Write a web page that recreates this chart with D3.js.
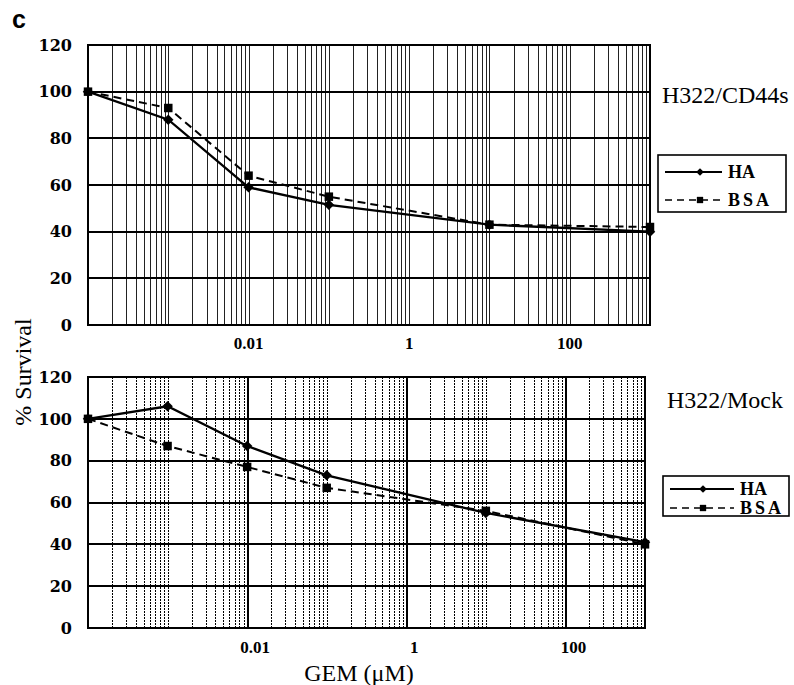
<!DOCTYPE html>
<html>
<head>
<meta charset="utf-8">
<script src="https://cdn.jsdelivr.net/npm/d3@7"></script>
<style>
  body { margin: 0; background: #fff; }
  svg { display: block; }
  .y-tick { font-family: 'DejaVu Serif', serif; font-weight: bold; font-size: 16px; }
  .x-tick { font-family: 'Liberation Serif', serif; font-weight: bold; font-size: 17px; }
  .legend-label { font-family: 'Liberation Serif', serif; font-weight: bold; font-size: 18px; }
  .panel-title, .axis-title { font-family: 'Liberation Serif', serif; font-size: 24px; }
  .fig-letter { font-family: 'Liberation Sans', sans-serif; font-weight: 900; font-size: 25px; }
  .grid { shape-rendering: crispEdges; }
</style>
</head>
<body>
<svg id="chart" width="794" height="685"></svg>
<script>
// GEM concentration (uM) for each measured point
const concentrations = [0.0001, 0.001, 0.01, 0.1, 10, 1000];
// % survival, H322/CD44s cells
const cd44sHA = [100, 88, 59, 51.5, 43, 40];
const cd44sBSA = [100, 93, 64, 55, 43, 42];
// % survival, H322/Mock cells
const mockHA = [100, 106, 87, 73, 55, 41];
const mockBSA = [100, 87, 77, 67, 56, 40];

const seriesNames = ['HA', 'BSA'];
const panelTitles = ['H322/CD44s', 'H322/Mock'];
const xTickLabels = [0.01, 1, 100];
const yTickValues = [0, 20, 40, 60, 80, 100, 120];
const xDomain = [0.0001, 1000];
const yDomain = [0, 120];

class SurvivalPanel {
  constructor(_config, _svg, _seriesData) {
    this.config = _config;
    this.svg = _svg;
    this.data = _seriesData;
    this.initVis();
  }

  initVis() {
    let vis = this;
    const c = vis.config;
    vis.xScale = d3.scaleLog().domain(xDomain).range([c.left, c.right]);
    vis.yScale = d3.scaleLinear().domain(yDomain).range([c.bottom, c.top]);
    vis.g = vis.svg.append('g');

    // vertical log grid (1..9 per decade)
    const isMajor = (d) => xTickLabels.some((t) => Math.abs(Math.log10(d) - Math.log10(t)) < 1e-6);
    vis.g.selectAll('.v-grid')
      .data(vis.xScale.ticks())
      .join('line')
      .attr('class', 'v-grid grid')
      .attr('x1', (d) => Math.round(vis.xScale(d)) + 0.5)
      .attr('x2', (d) => Math.round(vis.xScale(d)) + 0.5)
      .attr('y1', c.top)
      .attr('y2', c.bottom)
      .attr('stroke', (d) => (c.solidMinor ? '#222' : '#000'))
      .attr('stroke-width', (d) => (isMajor(d) && !c.solidMinor ? 2 : 1))
      .attr('stroke-dasharray', (d) => (c.solidMinor || isMajor(d) ? null : '2,1'));

    // horizontal grid
    vis.g.selectAll('.h-grid')
      .data(yTickValues)
      .join('line')
      .attr('class', 'h-grid grid')
      .attr('x1', c.left)
      .attr('x2', c.right)
      .attr('y1', (d) => vis.yScale(d))
      .attr('y2', (d) => vis.yScale(d))
      .attr('stroke', '#000')
      .attr('stroke-width', 2);

    vis.g.append('rect')
      .attr('class', 'grid')
      .attr('x', c.left)
      .attr('y', c.top)
      .attr('width', c.right - c.left)
      .attr('height', c.bottom - c.top)
      .attr('fill', 'none')
      .attr('stroke', '#000')
      .attr('stroke-width', 2);

    vis.g.selectAll('.y-tick')
      .data(yTickValues)
      .join('text')
      .attr('class', 'y-tick')
      .attr('x', c.left - 16)
      .attr('y', (d) => vis.yScale(d))
      .attr('dy', '0.36em')
      .attr('text-anchor', 'end')
      .text((d) => d);

    vis.g.selectAll('.x-tick')
      .data(xTickLabels)
      .join('text')
      .attr('class', 'x-tick')
      .attr('x', (d) => vis.xScale(d) + c.labelDx)
      .attr('y', c.bottom + c.labelDy)
      .attr('text-anchor', 'middle')
      .text((d) => d);

    vis.g.append('text')
      .attr('class', 'panel-title')
      .attr('x', c.titleX)
      .attr('y', c.titleY)
      .text(c.title);
  }

  renderVis() {
    let vis = this;
    const c = vis.config;
    const line = d3.line()
      .x((d) => vis.xScale(d.x))
      .y((d) => vis.yScale(d.y));

    const series = vis.g.selectAll('.series')
      .data(vis.data)
      .join('g')
      .attr('class', 'series');

    series.append('path')
      .attr('d', (d) => line(d.values))
      .attr('fill', 'none')
      .attr('stroke', '#000')
      .attr('stroke-width', (d) => (d.name === 'HA' ? 2.3 : 2))
      .attr('stroke-dasharray', (d) => (d.name === 'HA' ? null : '8,5'));

    series.selectAll('.marker')
      .data((d) => d.values.map((v) => ({ ...v, name: d.name })))
      .join('path')
      .attr('class', 'marker')
      .attr('d', (d) => (d.name === 'HA' ? d3.symbol(d3.symbolSquare, 55)() : d3.symbol(d3.symbolSquare, 72)()))
      .attr('transform', (d) => `translate(${vis.xScale(d.x)},${vis.yScale(d.y)})${d.name === 'HA' ? ' rotate(45)' : ''}`)
      .attr('fill', '#000');

    // legend
    const lg = vis.g.append('g').attr('transform', `translate(${c.legend.x},${c.legend.y})`);
    lg.append('rect')
      .attr('width', c.legend.w)
      .attr('height', c.legend.h)
      .attr('fill', '#fff')
      .attr('stroke', '#000')
      .attr('stroke-width', 1.6);
    const rows = lg.selectAll('.legend-row')
      .data(seriesNames)
      .join('g')
      .attr('class', 'legend-row')
      .attr('transform', (d, i) => `translate(0,${c.legend.row0 + i * c.legend.rowGap})`);
    rows.append('line')
      .attr('x1', 7)
      .attr('x2', c.legend.lineEnd)
      .attr('stroke', '#000')
      .attr('stroke-width', (d) => (d === 'HA' ? 2 : 1.6))
      .attr('stroke-dasharray', (d) => (d === 'HA' ? null : '7,5'));
    rows.append('path')
      .attr('d', (d) => (d === 'HA' ? d3.symbol(d3.symbolSquare, 30)() : d3.symbol(d3.symbolSquare, 40)()))
      .attr('transform', (d) => `translate(${c.legend.markerX},0)${d === 'HA' ? ' rotate(45)' : ''}`)
      .attr('fill', '#000');
    rows.append('text')
      .attr('class', 'legend-label')
      .attr('x', c.legend.lineEnd + 6)
      .attr('dy', '0.35em')
      .attr('letter-spacing', (d) => (d === 'BSA' ? 3 : 0))
      .text((d) => d);
  }
}

const svg = d3.select('#chart');

const toSeries = (vals) => concentrations.map((x, i) => ({ x: x, y: vals[i] }));

const topPanel = new SurvivalPanel({
  top: 45, bottom: 325, left: 88, right: 650, solidMinor: true,
  labelDx: 0, labelDy: 24,
  title: panelTitles[0], titleX: 662, titleY: 103,
  legend: { x: 658, y: 155, w: 128, h: 57, row0: 17, rowGap: 28, lineEnd: 64, markerX: 42 }
}, svg, [
  { name: seriesNames[0], values: toSeries(cd44sHA) },
  { name: seriesNames[1], values: toSeries(cd44sBSA) }
]);
topPanel.renderVis();

const bottomPanel = new SurvivalPanel({
  top: 377, bottom: 628, left: 88, right: 645, solidMinor: false,
  labelDx: 8, labelDy: 25,
  title: panelTitles[1], titleX: 667, titleY: 408,
  legend: { x: 663, y: 476, w: 126, h: 40, row0: 13, rowGap: 19, lineEnd: 71, markerX: 40 }
}, svg, [
  { name: seriesNames[0], values: toSeries(mockHA) },
  { name: seriesNames[1], values: toSeries(mockBSA) }
]);
bottomPanel.renderVis();

svg.append('text')
  .attr('class', 'fig-letter')
  .attr('x', 12)
  .attr('y', 28)
  .text('c');

svg.append('text')
  .attr('class', 'axis-title')
  .attr('transform', 'translate(31,372) rotate(-90)')
  .attr('text-anchor', 'middle')
  .text('% Survival');

svg.append('text')
  .attr('class', 'axis-title')
  .attr('x', 359)
  .attr('y', 681)
  .attr('text-anchor', 'middle')
  .text('GEM (μM)');
</script>
</body>
</html>
